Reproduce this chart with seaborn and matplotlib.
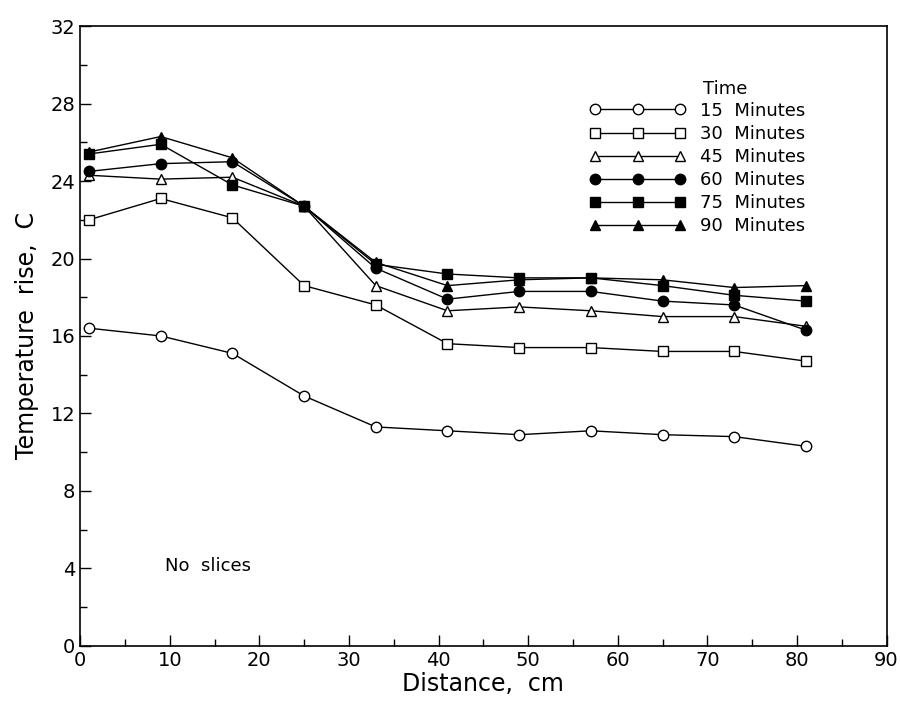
import matplotlib
matplotlib.use("Agg")
import matplotlib.pyplot as plt
import pandas as pd
import seaborn as sns
from matplotlib.ticker import MultipleLocator

# Distance along the sample, cm
distance = [1, 9, 17, 25, 33, 41, 49, 57, 65, 73, 81]

# Temperature rise, C, for each heating time
temp_15 = [16.4, 16.0, 15.1, 12.9, 11.3, 11.1, 10.9, 11.1, 10.9, 10.8, 10.3]
temp_30 = [22.0, 23.1, 22.1, 18.6, 17.6, 15.6, 15.4, 15.4, 15.2, 15.2, 14.7]
temp_45 = [24.3, 24.1, 24.2, 22.7, 18.6, 17.3, 17.5, 17.3, 17.0, 17.0, 16.5]
temp_60 = [24.5, 24.9, 25.0, 22.7, 19.5, 17.9, 18.3, 18.3, 17.8, 17.6, 16.3]
temp_75 = [25.4, 25.9, 23.8, 22.7, 19.7, 19.2, 19.0, 19.0, 18.6, 18.1, 17.8]
temp_90 = [25.5, 26.3, 25.2, 22.7, 19.8, 18.6, 18.9, 19.0, 18.9, 18.5, 18.6]

labels = ["15  Minutes", "30  Minutes", "45  Minutes",
          "60  Minutes", "75  Minutes", "90  Minutes"]


def build_frame() -> pd.DataFrame:
    series = [temp_15, temp_30, temp_45, temp_60, temp_75, temp_90]
    rows = []
    for label, values in zip(labels, series):
        for d, v in zip(distance, values):
            rows.append({"time": label, "distance": d, "rise": v})
    return pd.DataFrame(rows)


def plot(df: pd.DataFrame) -> None:
    sns.set_style("ticks")
    plt.rcParams["font.family"] = ["DejaVu Sans"]
    # plain black text like the original plotter output
    for key in ("text.color", "axes.labelcolor", "xtick.color", "ytick.color"):
        plt.rcParams[key] = "black"

    fig = plt.figure(figsize=(9, 7.08), dpi=100)
    ax = fig.add_subplot(111)
    fig.subplots_adjust(left=0.089, right=0.985, top=0.963, bottom=0.088)

    # marker, filled?
    styles = [("o", False), ("s", False), ("^", False),
              ("o", True), ("s", True), ("^", True)]
    for label, (marker, filled) in zip(labels, styles):
        sub = df[df["time"] == label]
        sns.lineplot(
            data=sub, x="distance", y="rise", ax=ax, color="black",
            linewidth=1.0, marker=marker, markersize=7.5,
            markerfacecolor="black" if filled else "white",
            markeredgecolor="black", markeredgewidth=1.0, label=label,
        )

    ax.set_xlim(0, 90)
    ax.set_ylim(0, 32)
    ax.xaxis.set_major_locator(MultipleLocator(10))
    ax.xaxis.set_minor_locator(MultipleLocator(5))
    ax.yaxis.set_major_locator(MultipleLocator(4))
    ax.yaxis.set_minor_locator(MultipleLocator(2))
    ax.tick_params(axis="both", which="both", direction="in", labelsize=14,
                   top=False, right=False, color="black", labelcolor="black")
    ax.tick_params(which="major", length=8, width=1)
    ax.tick_params(which="minor", length=5, width=1)
    for spine in ax.spines.values():
        spine.set_visible(True)
        spine.set_color("black")
        spine.set_linewidth(1.2)

    ax.set_xlabel("Distance,  cm", fontsize=17, labelpad=2)
    ax.set_ylabel("Temperature  rise,  C", fontsize=17, labelpad=8)

    ax.text(9.5, 4.1, "No  slices", fontsize=13, va="center", ha="left")

    ax.legend(
        loc="upper left", bbox_to_anchor=(0.632, 0.878), numpoints=3,
        frameon=False, fontsize=13, handlelength=5.3, handletextpad=0.8,
        labelspacing=0.28, borderpad=0, borderaxespad=0,
    )
    ax.text(0.772, 0.898, "Time", transform=ax.transAxes, fontsize=13,
            va="center", ha="left")

    plt.savefig("out.png", dpi=100)


def main() -> None:
    df = build_frame()
    plot(df=df)


if __name__ == "__main__":
    main()
